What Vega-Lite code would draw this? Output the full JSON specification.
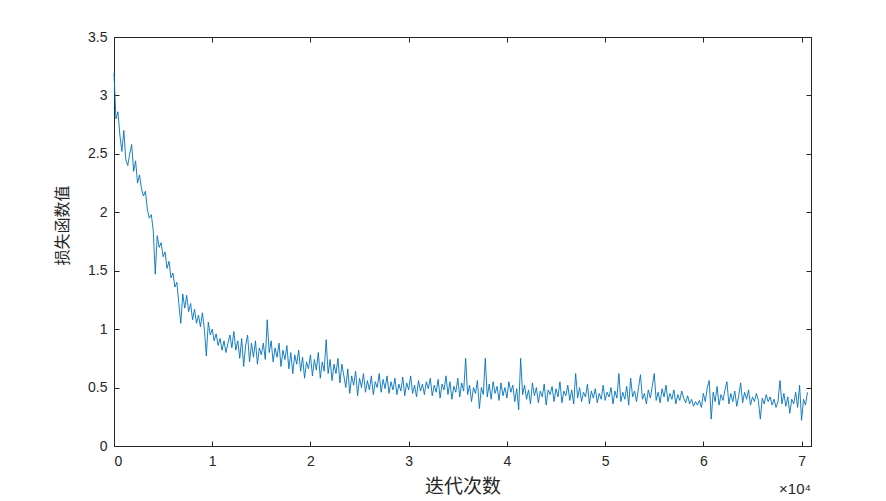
{
  "$schema": "https://vega.github.io/schema/vega-lite/v6.json",
  "width": 697,
  "height": 409,
  "autosize": {"type": "none"},
  "padding": {"left": 114, "top": 37, "right": 75, "bottom": 55},
  "background": "#ffffff",
  "config": {
    "view": {"stroke": "#262626", "strokeWidth": 1},
    "axis": {
      "grid": false,
      "domainColor": "#262626",
      "tickColor": "#262626",
      "labelColor": "#262626",
      "titleColor": "#262626",
      "labelFont": "Liberation Sans",
      "labelFontSize": 14,
      "tickSize": -5,
      "titleFontWeight": "normal"
    }
  },
  "title": {
    "text": "×10⁴",
    "orient": "bottom",
    "anchor": "end",
    "frame": "group",
    "font": "Liberation Sans",
    "fontSize": 15,
    "fontWeight": "normal",
    "color": "#262626",
    "offset": -14
  },
  "data": {
    "values": [
      {"x":0,"y":3.19},{"x":200,"y":2.80},{"x":400,"y":2.86},{"x":600,"y":2.66},{"x":800,"y":2.52},
      {"x":1000,"y":2.70},{"x":1200,"y":2.45},{"x":1400,"y":2.40},{"x":1600,"y":2.50},{"x":1800,"y":2.58},
      {"x":2000,"y":2.35},{"x":2200,"y":2.44},{"x":2400,"y":2.25},{"x":2600,"y":2.32},{"x":2800,"y":2.20},
      {"x":3000,"y":2.14},{"x":3200,"y":2.18},{"x":3400,"y":2.02},{"x":3600,"y":1.95},{"x":3800,"y":1.98},
      {"x":4000,"y":1.84},{"x":4200,"y":1.47},{"x":4400,"y":1.80},{"x":4600,"y":1.70},{"x":4800,"y":1.74},
      {"x":5000,"y":1.62},{"x":5200,"y":1.66},{"x":5400,"y":1.52},{"x":5600,"y":1.58},{"x":5800,"y":1.44},
      {"x":6000,"y":1.48},{"x":6200,"y":1.36},{"x":6400,"y":1.40},{"x":6600,"y":1.22},{"x":6800,"y":1.05},
      {"x":7000,"y":1.30},{"x":7200,"y":1.18},{"x":7400,"y":1.29},{"x":7600,"y":1.15},{"x":7800,"y":1.22},
      {"x":8000,"y":1.08},{"x":8200,"y":1.17},{"x":8400,"y":1.05},{"x":8600,"y":1.12},{"x":8800,"y":1.02},
      {"x":9000,"y":1.14},{"x":9200,"y":1.00},{"x":9400,"y":0.77},{"x":9600,"y":1.06},{"x":9800,"y":0.95},
      {"x":10000,"y":1.00},{"x":10200,"y":0.90},{"x":10400,"y":0.96},{"x":10600,"y":0.86},{"x":10800,"y":0.92},
      {"x":11000,"y":0.82},{"x":11200,"y":0.90},{"x":11400,"y":0.80},{"x":11600,"y":0.88},{"x":11800,"y":0.95},
      {"x":12000,"y":0.84},{"x":12200,"y":0.98},{"x":12400,"y":0.82},{"x":12600,"y":0.90},{"x":12800,"y":0.75},
      {"x":13000,"y":0.92},{"x":13200,"y":0.68},{"x":13400,"y":0.86},{"x":13600,"y":0.95},{"x":13800,"y":0.72},
      {"x":14000,"y":0.88},{"x":14200,"y":0.76},{"x":14400,"y":0.90},{"x":14600,"y":0.70},{"x":14800,"y":0.84},
      {"x":15000,"y":0.78},{"x":15200,"y":0.88},{"x":15400,"y":0.74},{"x":15600,"y":1.08},{"x":15800,"y":0.80},
      {"x":16000,"y":0.90},{"x":16200,"y":0.72},{"x":16400,"y":0.84},{"x":16600,"y":0.76},{"x":16800,"y":0.88},
      {"x":17000,"y":0.68},{"x":17200,"y":0.82},{"x":17400,"y":0.74},{"x":17600,"y":0.86},{"x":17800,"y":0.66},
      {"x":18000,"y":0.80},{"x":18200,"y":0.62},{"x":18400,"y":0.78},{"x":18600,"y":0.70},{"x":18800,"y":0.82},
      {"x":19000,"y":0.64},{"x":19200,"y":0.76},{"x":19400,"y":0.58},{"x":19600,"y":0.72},{"x":19800,"y":0.66},
      {"x":20000,"y":0.78},{"x":20200,"y":0.60},{"x":20400,"y":0.74},{"x":20600,"y":0.65},{"x":20800,"y":0.80},
      {"x":21000,"y":0.58},{"x":21200,"y":0.72},{"x":21400,"y":0.64},{"x":21600,"y":0.91},{"x":21800,"y":0.62},
      {"x":22000,"y":0.74},{"x":22200,"y":0.56},{"x":22400,"y":0.70},{"x":22600,"y":0.62},{"x":22800,"y":0.75},
      {"x":23000,"y":0.54},{"x":23200,"y":0.70},{"x":23400,"y":0.60},{"x":23600,"y":0.50},{"x":23800,"y":0.66},
      {"x":24000,"y":0.45},{"x":24200,"y":0.60},{"x":24400,"y":0.52},{"x":24600,"y":0.64},{"x":24800,"y":0.43},
      {"x":25000,"y":0.58},{"x":25200,"y":0.50},{"x":25400,"y":0.62},{"x":25600,"y":0.46},{"x":25800,"y":0.56},
      {"x":26000,"y":0.48},{"x":26200,"y":0.60},{"x":26400,"y":0.44},{"x":26600,"y":0.55},{"x":26800,"y":0.50},
      {"x":27000,"y":0.62},{"x":27200,"y":0.46},{"x":27400,"y":0.57},{"x":27600,"y":0.49},{"x":27800,"y":0.60},
      {"x":28000,"y":0.45},{"x":28200,"y":0.55},{"x":28400,"y":0.48},{"x":28600,"y":0.58},{"x":28800,"y":0.44},
      {"x":29000,"y":0.53},{"x":29200,"y":0.47},{"x":29400,"y":0.59},{"x":29600,"y":0.43},{"x":29800,"y":0.54},
      {"x":30000,"y":0.48},{"x":30200,"y":0.60},{"x":30400,"y":0.45},{"x":30600,"y":0.52},{"x":30800,"y":0.42},
      {"x":31000,"y":0.56},{"x":31200,"y":0.47},{"x":31400,"y":0.53},{"x":31600,"y":0.44},{"x":31800,"y":0.55},
      {"x":32000,"y":0.49},{"x":32200,"y":0.58},{"x":32400,"y":0.43},{"x":32600,"y":0.52},{"x":32800,"y":0.46},
      {"x":33000,"y":0.57},{"x":33200,"y":0.41},{"x":33400,"y":0.53},{"x":33600,"y":0.48},{"x":33800,"y":0.60},
      {"x":34000,"y":0.44},{"x":34200,"y":0.55},{"x":34400,"y":0.40},{"x":34600,"y":0.51},{"x":34800,"y":0.46},
      {"x":35000,"y":0.58},{"x":35200,"y":0.42},{"x":35400,"y":0.54},{"x":35600,"y":0.47},{"x":35800,"y":0.75},
      {"x":36000,"y":0.44},{"x":36200,"y":0.52},{"x":36400,"y":0.38},{"x":36600,"y":0.50},{"x":36800,"y":0.45},
      {"x":37000,"y":0.56},{"x":37200,"y":0.32},{"x":37400,"y":0.50},{"x":37600,"y":0.44},{"x":37800,"y":0.75},
      {"x":38000,"y":0.42},{"x":38200,"y":0.53},{"x":38400,"y":0.40},{"x":38600,"y":0.55},{"x":38800,"y":0.45},
      {"x":39000,"y":0.51},{"x":39200,"y":0.39},{"x":39400,"y":0.54},{"x":39600,"y":0.43},{"x":39800,"y":0.50},
      {"x":40000,"y":0.41},{"x":40200,"y":0.55},{"x":40400,"y":0.46},{"x":40600,"y":0.52},{"x":40800,"y":0.38},
      {"x":41000,"y":0.49},{"x":41200,"y":0.31},{"x":41400,"y":0.75},{"x":41600,"y":0.44},{"x":41800,"y":0.52},
      {"x":42000,"y":0.40},{"x":42200,"y":0.48},{"x":42400,"y":0.36},{"x":42600,"y":0.54},{"x":42800,"y":0.43},
      {"x":43000,"y":0.50},{"x":43200,"y":0.37},{"x":43400,"y":0.47},{"x":43600,"y":0.42},{"x":43800,"y":0.53},
      {"x":44000,"y":0.35},{"x":44200,"y":0.48},{"x":44400,"y":0.44},{"x":44600,"y":0.51},{"x":44800,"y":0.38},
      {"x":45000,"y":0.49},{"x":45200,"y":0.42},{"x":45400,"y":0.55},{"x":45600,"y":0.37},{"x":45800,"y":0.47},
      {"x":46000,"y":0.43},{"x":46200,"y":0.52},{"x":46400,"y":0.39},{"x":46600,"y":0.48},{"x":46800,"y":0.36},
      {"x":47000,"y":0.62},{"x":47200,"y":0.41},{"x":47400,"y":0.50},{"x":47600,"y":0.38},{"x":47800,"y":0.46},
      {"x":48000,"y":0.42},{"x":48200,"y":0.53},{"x":48400,"y":0.36},{"x":48600,"y":0.47},{"x":48800,"y":0.41},
      {"x":49000,"y":0.49},{"x":49200,"y":0.37},{"x":49400,"y":0.45},{"x":49600,"y":0.40},{"x":49800,"y":0.52},
      {"x":50000,"y":0.39},{"x":50200,"y":0.46},{"x":50400,"y":0.42},{"x":50600,"y":0.50},{"x":50800,"y":0.36},
      {"x":51000,"y":0.47},{"x":51200,"y":0.41},{"x":51400,"y":0.62},{"x":51600,"y":0.38},{"x":51800,"y":0.46},
      {"x":52000,"y":0.40},{"x":52200,"y":0.51},{"x":52400,"y":0.35},{"x":52600,"y":0.58},{"x":52800,"y":0.42},
      {"x":53000,"y":0.47},{"x":53200,"y":0.38},{"x":53400,"y":0.50},{"x":53600,"y":0.61},{"x":53800,"y":0.40},
      {"x":54000,"y":0.45},{"x":54200,"y":0.36},{"x":54400,"y":0.48},{"x":54600,"y":0.41},{"x":54800,"y":0.51},
      {"x":55000,"y":0.62},{"x":55200,"y":0.39},{"x":55400,"y":0.46},{"x":55600,"y":0.37},{"x":55800,"y":0.49},
      {"x":56000,"y":0.42},{"x":56200,"y":0.52},{"x":56400,"y":0.38},{"x":56600,"y":0.45},{"x":56800,"y":0.40},
      {"x":57000,"y":0.48},{"x":57200,"y":0.36},{"x":57400,"y":0.44},{"x":57600,"y":0.39},{"x":57800,"y":0.47},
      {"x":58000,"y":0.41},{"x":58200,"y":0.37},{"x":58400,"y":0.43},{"x":58600,"y":0.36},{"x":58800,"y":0.40},
      {"x":59000,"y":0.34},{"x":59200,"y":0.38},{"x":59400,"y":0.35},{"x":59600,"y":0.39},{"x":59800,"y":0.33},
      {"x":60000,"y":0.45},{"x":60200,"y":0.38},{"x":60400,"y":0.50},{"x":60600,"y":0.56},{"x":60800,"y":0.23},
      {"x":61000,"y":0.46},{"x":61200,"y":0.38},{"x":61400,"y":0.51},{"x":61600,"y":0.35},{"x":61800,"y":0.44},
      {"x":62000,"y":0.39},{"x":62200,"y":0.48},{"x":62400,"y":0.55},{"x":62600,"y":0.36},{"x":62800,"y":0.45},
      {"x":63000,"y":0.38},{"x":63200,"y":0.47},{"x":63400,"y":0.34},{"x":63600,"y":0.43},{"x":63800,"y":0.54},
      {"x":64000,"y":0.37},{"x":64200,"y":0.46},{"x":64400,"y":0.40},{"x":64600,"y":0.48},{"x":64800,"y":0.35},
      {"x":65000,"y":0.42},{"x":65200,"y":0.38},{"x":65400,"y":0.45},{"x":65600,"y":0.39},{"x":65800,"y":0.23},
      {"x":66000,"y":0.41},{"x":66200,"y":0.36},{"x":66400,"y":0.44},{"x":66600,"y":0.38},{"x":66800,"y":0.42},
      {"x":67000,"y":0.35},{"x":67200,"y":0.40},{"x":67400,"y":0.33},{"x":67600,"y":0.38},{"x":67800,"y":0.56},
      {"x":68000,"y":0.36},{"x":68200,"y":0.45},{"x":68400,"y":0.34},{"x":68600,"y":0.42},{"x":68800,"y":0.28},
      {"x":69000,"y":0.40},{"x":69200,"y":0.36},{"x":69400,"y":0.46},{"x":69600,"y":0.33},{"x":69800,"y":0.52},
      {"x":70000,"y":0.22},{"x":70200,"y":0.40},{"x":70400,"y":0.35},{"x":70600,"y":0.46}
    ]
  },
  "layer": [
    {
      "mark": {"type": "line", "color": "#0072BD", "strokeWidth": 0.9},
      "encoding": {
        "x": {
          "field": "x", "type": "quantitative",
          "scale": {"domain": [0, 70960], "nice": false, "zero": false},
          "axis": {
            "orient": "bottom",
            "values": [0, 10000, 20000, 30000, 40000, 50000, 60000, 70000],
            "labelExpr": "format(datum.value / 10000, 'd')",
            "labelPadding": 13,
            "title": "迭代次数",
            "titleFont": "Noto Sans CJK SC",
            "titleFontSize": 19,
            "titlePadding": 9
          }
        },
        "y": {
          "field": "y", "type": "quantitative",
          "scale": {"domain": [0, 3.5], "nice": false, "zero": false},
          "axis": {
            "orient": "left",
            "values": [0, 0.5, 1, 1.5, 2, 2.5, 3, 3.5],
            "format": "~g",
            "labelPadding": 12,
            "title": "损失函数值",
            "titleFont": "Noto Sans CJK SC",
            "titleFontSize": 16,
            "titlePadding": 17,
            "titleY": 188
          }
        }
      }
    },
    {
      "mark": {"type": "line", "strokeOpacity": 0},
      "encoding": {
        "x": {
          "field": "x", "type": "quantitative",
          "axis": {
            "orient": "top",
            "values": [0, 10000, 20000, 30000, 40000, 50000, 60000, 70000],
            "labels": false, "title": null
          }
        },
        "y": {
          "field": "y", "type": "quantitative",
          "axis": {
            "orient": "right",
            "values": [0, 0.5, 1, 1.5, 2, 2.5, 3, 3.5],
            "labels": false, "title": null
          }
        }
      }
    }
  ]
}
